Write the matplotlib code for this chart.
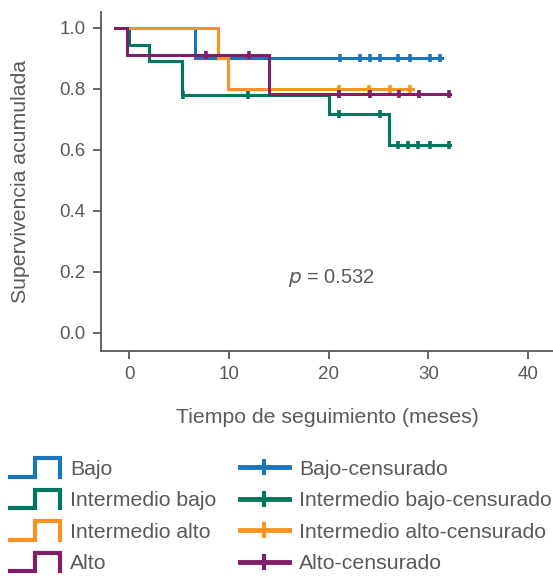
import numpy as np
import matplotlib
matplotlib.use("Agg")
from matplotlib import pyplot as plt
from matplotlib.lines import Line2D
from matplotlib.legend_handler import HandlerBase

plt.rcParams['font.family'] = ['Liberation Sans', 'DejaVu Sans']

#------------- datos -------------
grupos = ["Bajo", "Intermedio bajo", "Intermedio alto", "Alto"]
colores = ["#1b75bb", "#00775f", "#f7931e", "#7f1f6a"]

#tiempos (inicio, eventos, fin) y supervivencia acumulada
bajo_t = [0, 6.6, 31.4]
bajo_s = [1.0, 0.90, 0.90]
bajo_cens = [21.1, 23.1, 24.1, 25.1, 27.0, 28.2, 30.2, 31.2]

ibajo_t = [-0.3, 0.0, 2.0, 5.3, 20.0, 26.0, 32.2]
ibajo_s = [1.0, 0.944, 0.889, 0.778, 0.716, 0.615, 0.615]
ibajo_cens = [5.4, 11.9, 21.0, 25.1, 27.0, 28.0, 29.0, 30.2, 32.1]

ialto_t = [0, 8.9, 9.9, 28.5]
ialto_s = [1.0, 0.90, 0.80, 0.80]
ialto_cens = [21.0, 24.0, 26.1, 28.2]

alto_t = [-1.4, -0.2, 14.0, 32.2]
alto_s = [1.0, 0.909, 0.782, 0.782]
alto_cens = [7.7, 12.0, 21.0, 24.1, 27.1, 29.1, 32.1]

p_valor = "0.532"

series = [(bajo_t, bajo_s, bajo_cens),
          (ibajo_t, ibajo_s, ibajo_cens),
          (ialto_t, ialto_s, ialto_cens),
          (alto_t, alto_s, alto_cens)]

gris = "#595959"


#------------- icono escalonado para la leyenda -------------
class StepHandler(HandlerBase):
    def create_artists(self, legend, orig_handle, xdescent, ydescent,
                       width, height, fontsize, trans):
        x0 = -xdescent
        y0 = -ydescent
        xs = [x0, x0 + 0.5 * width, x0 + 0.5 * width, x0 + width, x0 + width]
        ys = [y0 - 0.1 * height, y0 - 0.1 * height, y0 + 1.1 * height,
              y0 + 1.1 * height, y0 - 0.1 * height]
        ln = Line2D(xs, ys, color=orig_handle.get_color(),
                    lw=orig_handle.get_linewidth(), solid_joinstyle="miter")
        ln.set_transform(trans)
        return [ln]


fig = plt.figure(figsize=(5.53, 5.79), dpi=100)
ax = fig.add_axes([101 / 553, (579 - 351) / 579, 452 / 553, (351 - 12) / 579])

for (t, s, cens), c in zip(series, colores):
    ax.step(t, s, where="post", color=c, lw=2.2, solid_joinstyle="miter")
    t_arr = np.array(t)
    s_arr = np.array(s)
    idx = np.searchsorted(t_arr, cens, side="right") - 1
    ax.plot(cens, s_arr[idx], ls="none", marker="|", color=c,
            markersize=6, mew=2.6)

ax.text(20.3, 0.18, r"$p$ = " + p_valor, fontsize=14.5, color=gris,
        ha="center", va="center")

ax.set_xlim(-2.84, 42.5)
ax.set_ylim(-0.059, 1.051)
ax.set_xticks([0, 10, 20, 30, 40])
ax.set_yticks([0.0, 0.2, 0.4, 0.6, 0.8, 1.0])
ax.set_yticklabels(["0.0", "0.2", "0.4", "0.6", "0.8", "1.0"])
for sp in ["top", "right"]:
    ax.spines[sp].set_visible(False)
for sp in ["left", "bottom"]:
    ax.spines[sp].set_color(gris)
    ax.spines[sp].set_linewidth(1.3)
ax.tick_params(colors=gris, labelsize=13.5, length=6, width=1.3, pad=5)
ax.set_xlabel("Tiempo de seguimiento (meses)", fontsize=15.3, color=gris,
              labelpad=18)
ax.set_ylabel("Supervivencia acumulada", fontsize=15.3, color=gris,
              labelpad=21)

#------------- leyenda -------------
h_step = [Line2D([], [], color=c, lw=3) for c in colores]
h_cens = [Line2D([], [], color=c, lw=3.5, marker="|", markersize=11, mew=3)
          for c in colores]
etiquetas = grupos + [g + "-censurado" for g in ["Bajo", "Intermedio bajo",
                                                 "Intermedio alto", "Alto"]]
hmap = {h: StepHandler() for h in h_step}
fig.legend(h_step + h_cens, etiquetas, handler_map=hmap, ncol=2,
           loc="upper left", bbox_to_anchor=(0.018, 0.206), frameon=False,
           fontsize=15.3, labelcolor=gris, handlelength=2.35,
           handleheight=0.75, handletextpad=0.47, columnspacing=1.1,
           labelspacing=0.58, borderpad=0, borderaxespad=0)

fig.savefig("out.png", dpi=100)
